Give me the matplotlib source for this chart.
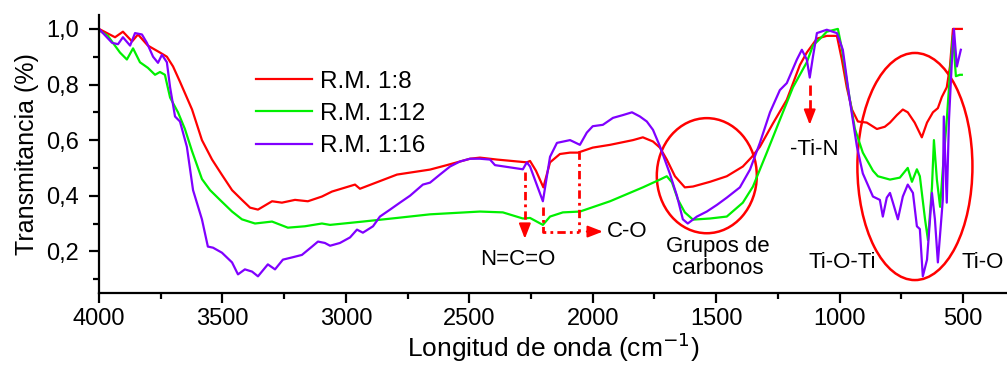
import matplotlib
matplotlib.use("Agg")
import matplotlib.pyplot as plt
from matplotlib.patches import Ellipse
from matplotlib.ticker import FuncFormatter, MultipleLocator

plt.rcParams["font.family"] = ["Liberation Sans", "DejaVu Sans"]

# FTIR spectra, transmittance vs wavenumber (cm-1)
wn_18 = [4000, 3935, 3903, 3866, 3842, 3802, 3753, 3725, 3700, 3672, 3623, 3583, 3542,
         3502, 3461, 3421, 3388, 3356, 3299, 3259, 3206, 3154, 3097, 3056, 2963, 2943,
         2793, 2659, 2591, 2497, 2457, 2388, 2267, 2254, 2230, 2200, 2185, 2173, 2133,
         2092, 2060, 2000, 1930, 1837, 1797, 1756, 1728, 1700, 1667, 1627, 1594, 1525,
         1457, 1392, 1355, 1323, 1270, 1214, 1161, 1133, 1092, 1052, 1011, 991, 971, 950,
         926, 890, 849, 817, 796, 768, 744, 724, 696, 667, 646, 622, 602, 586, 566, 553,
         541, 505]
t_18 = [1.00, 0.97, 0.99, 0.955, 0.98, 0.94, 0.915, 0.90, 0.865, 0.81, 0.71, 0.60, 0.53,
        0.475, 0.42, 0.385, 0.357, 0.35, 0.38, 0.375, 0.385, 0.38, 0.397, 0.415, 0.44, 0.425,
        0.476, 0.494, 0.51, 0.533, 0.537, 0.53, 0.52, 0.525, 0.49, 0.43, 0.48, 0.52, 0.55,
        0.555, 0.555, 0.573, 0.583, 0.60, 0.61, 0.595, 0.573, 0.53, 0.47, 0.43, 0.433, 0.45,
        0.47, 0.505, 0.54, 0.576, 0.66, 0.745, 0.87, 0.915, 0.965, 0.975, 0.975, 0.89, 0.79, 0.71,
        0.667, 0.663, 0.64, 0.648, 0.663, 0.69, 0.71, 0.70, 0.663, 0.61, 0.663, 0.70, 0.715,
        0.755, 0.79, 0.865, 1.0, 1.0]

wn_112 = [4000, 3964, 3915, 3887, 3862, 3834, 3802, 3773, 3753, 3733, 3712, 3680, 3652,
          3623, 3583, 3550, 3510, 3461, 3421, 3368, 3299, 3235, 3166, 3097, 3064, 2931,
          2793, 2659, 2457, 2364, 2283, 2254, 2202, 2173, 2121, 2052, 1930, 1797, 1728,
          1700, 1679, 1655, 1627, 1594, 1525, 1457, 1392, 1351, 1295, 1242, 1189, 1133,
          1108, 1079, 1052, 1007, 991, 967, 938, 906, 865, 845, 796, 756, 724, 707, 687,
          675, 654, 642, 626, 618, 606, 593, 582, 566, 553, 541, 529, 513, 505]
t_112 = [0.995, 0.975, 0.915, 0.89, 0.93, 0.88, 0.86, 0.835, 0.845, 0.835, 0.753, 0.70, 0.64,
         0.56, 0.46, 0.42, 0.385, 0.343, 0.315, 0.30, 0.307, 0.285, 0.29, 0.30, 0.295, 0.307,
         0.32, 0.333, 0.343, 0.34, 0.318, 0.32, 0.295, 0.325, 0.34, 0.343, 0.38, 0.43, 0.458,
         0.47, 0.448, 0.386, 0.34, 0.314, 0.318, 0.325, 0.375, 0.433, 0.555, 0.673, 0.79, 0.88,
         0.94, 0.965, 0.99, 1.00, 0.93, 0.79, 0.64, 0.555, 0.49, 0.47, 0.458, 0.465, 0.50, 0.45,
         0.495, 0.47, 0.315, 0.24, 0.43, 0.60, 0.458, 0.36, 0.495, 0.673, 0.84, 0.975, 0.83,
         0.835, 0.835]

wn_116 = [4000, 3947, 3923, 3903, 3874, 3854, 3826, 3806, 3781, 3761, 3745, 3725, 3712,
          3692, 3672, 3644, 3619, 3583, 3559, 3538, 3502, 3461, 3437, 3409, 3380, 3356,
          3316, 3287, 3255, 3218, 3178, 3137, 3113, 3085, 3064, 3024, 2983, 2955, 2931,
          2890, 2862, 2821, 2781, 2740, 2688, 2659, 2619, 2578, 2538, 2497, 2457, 2416,
          2396, 2283, 2267, 2254, 2202, 2173, 2145, 2092, 2080, 2052, 2024, 2000, 1959,
          1918, 1878, 1841, 1809, 1781, 1756, 1728, 1688, 1659, 1635, 1615, 1578, 1538,
          1497, 1457, 1404, 1363, 1323, 1282, 1242, 1214, 1173, 1153, 1133, 1121, 1108,
          1092, 1052, 1011, 987, 959, 930, 906, 865, 837, 825, 809, 796, 784, 764, 744,
          724, 703, 687, 675, 663, 646, 626, 614, 602, 582, 578, 566, 557, 545, 537, 525,
          509]
t_116 = [1.00, 0.95, 0.945, 0.97, 0.94, 0.985, 0.98, 0.95, 0.90, 0.878, 0.907, 0.88, 0.79,
         0.685, 0.667, 0.576, 0.42, 0.315, 0.217, 0.213, 0.195, 0.16, 0.117, 0.135, 0.127, 0.11,
         0.153, 0.135, 0.17, 0.178, 0.187, 0.217, 0.235, 0.23, 0.22, 0.23, 0.25, 0.278, 0.267,
         0.29, 0.325, 0.35, 0.375, 0.40, 0.44, 0.447, 0.476, 0.505, 0.523, 0.533, 0.533, 0.53,
         0.51, 0.495, 0.52, 0.505, 0.38, 0.54, 0.59, 0.60, 0.595, 0.583, 0.627, 0.65, 0.655,
         0.68, 0.69, 0.70, 0.685, 0.667, 0.637, 0.578, 0.48, 0.40, 0.315, 0.30, 0.325, 0.343,
         0.367, 0.393, 0.43, 0.494, 0.59, 0.70, 0.78, 0.805, 0.89, 0.925, 0.89, 0.825, 0.90,
         0.985, 0.997, 0.985, 0.925, 0.745, 0.577, 0.48, 0.397, 0.385, 0.325, 0.393, 0.41, 0.375,
         0.315, 0.397, 0.44, 0.41, 0.29, 0.28, 0.11, 0.17, 0.41, 0.315, 0.16, 0.385, 0.685,
         0.375, 0.673, 0.89, 1.0, 0.865, 0.925]

labels = ["R.M. 1:8", "R.M. 1:12", "R.M. 1:16"]
colors = ["#ff0000", "#00f000", "#8000ff"]

fig = plt.figure(figsize=(10.07, 3.68), dpi=100)
ax = fig.add_axes([0.0983, 0.2038, 0.9017, 0.7554])

for wn, t, lab, c in zip([wn_18, wn_112, wn_116], [t_18, t_112, t_116], labels, colors):
    ax.plot(wn, t, color=c, lw=1.6, label=lab)

ax.set_xlim(4000, 322)
ax.set_ylim(0.05, 1.05)
ax.xaxis.set_major_locator(MultipleLocator(500))
ax.xaxis.set_minor_locator(MultipleLocator(250))
ax.yaxis.set_major_locator(MultipleLocator(0.2))
ax.yaxis.set_minor_locator(MultipleLocator(0.1))
ax.yaxis.set_major_formatter(FuncFormatter(lambda v, _: f"{v:.1f}".replace(".", ",")))
for s in ("top", "right"):
    ax.spines[s].set_visible(False)
for s in ("left", "bottom"):
    ax.spines[s].set_linewidth(1.6)
ax.tick_params(which="major", length=7.5, width=1.6, labelsize=17)
ax.tick_params(which="minor", length=4, width=1.6)
ax.tick_params(axis="y", which="major", pad=7)
ax.tick_params(axis="x", which="major", pad=3)

ax.set_xlabel("Longitud de onda (cm$^{-1}$)", fontsize=19, labelpad=1)
ax.set_ylabel("Transmitancia (%)", fontsize=18, labelpad=5)

ax.legend(loc="upper left", bbox_to_anchor=(0.162, 0.835), frameon=False, fontsize=17.5,
          handlelength=2.3, handletextpad=0.35, labelspacing=0.42, borderaxespad=0)

# highlighted regions
red = "#ff0000"
ax.add_patch(Ellipse((1538, 0.472), 405, 0.414, fill=False, ec=red, lw=1.8))
ax.add_patch(Ellipse((695, 0.505), 466, 0.817, fill=False, ec=red, lw=1.8))

dashdot = (0, (3, 1.5, 1, 1.5))
head = dict(arrowstyle="-|>,head_length=0.9,head_width=0.35", color=red, lw=1.5,
            shrinkA=0, shrinkB=0)

# N=C=O
ax.plot([2275, 2275], [0.486, 0.29], color=red, lw=2, ls=dashdot)
ax.annotate("", xy=(2275, 0.245), xytext=(2275, 0.29), arrowprops=head)
# C-O
ax.plot([2202, 2202, 2056], [0.36, 0.271, 0.271], color=red, lw=2, ls=dashdot)
ax.plot([2056, 2056], [0.56, 0.271], color=red, lw=2, ls=dashdot)
ax.annotate("", xy=(1959, 0.271), xytext=(2024, 0.271), arrowprops=head)
# Ti-N
ax.plot([1121, 1121], [0.80, 0.70], color=red, lw=2, ls="--")
ax.annotate("", xy=(1121, 0.655), xytext=(1121, 0.70), arrowprops=head)

fs = 16
ax.text(2303, 0.17, "N=C=O", fontsize=fs, ha="center", va="center")
ax.text(1943, 0.271, "C-O", fontsize=fs, ha="left", va="center")
ax.text(1493, 0.177, "Grupos de\ncarbonos", fontsize=fs, ha="center", va="center",
        linespacing=1.1)
ax.text(1104, 0.566, "-Ti-N", fontsize=fs, ha="center", va="center")
ax.text(991, 0.16, "Ti-O-Ti", fontsize=fs, ha="center", va="center")
ax.text(420, 0.16, "Ti-O", fontsize=fs, ha="center", va="center")

fig.savefig("out.png", dpi=100)
